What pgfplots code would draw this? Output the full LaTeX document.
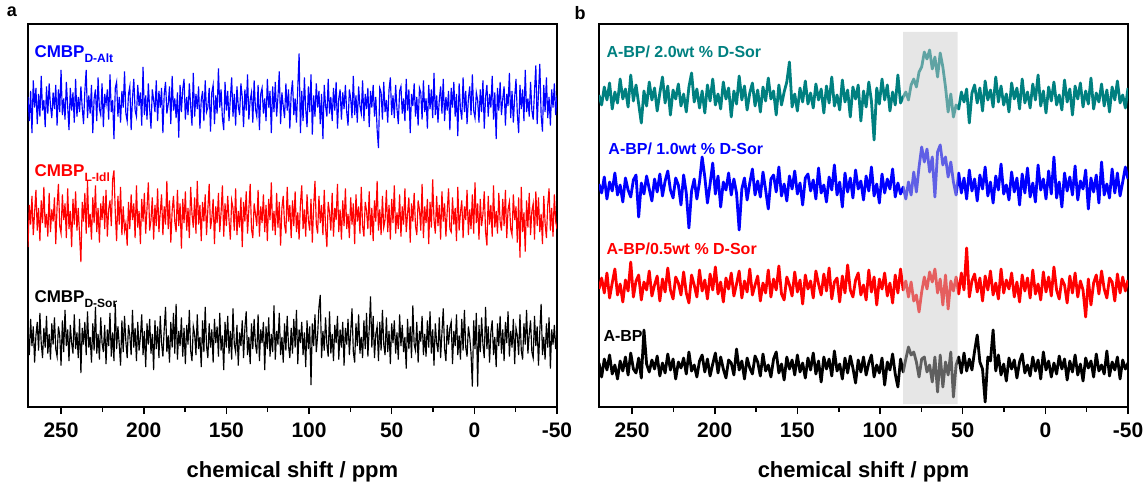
\documentclass[border=0pt]{standalone}
\usepackage{fontspec}
\setmainfont{Liberation Sans}
\usepackage{pgfplots}
\usepackage{pgfplotstable}
\pgfplotsset{compat=1.18}
\definecolor{cteal}{RGB}{0,128,128}
\definecolor{bandgray}{RGB}{202,202,202}

% ---- panel a (0.8 ppm steps from 270 ppm) ----
\pgfplotstableread[row sep=\\]{y\\
4\\-12\\8\\-20\\15\\-3\\10\\-14\\6\\-9\\18\\-5\\2\\-16\\11\\-7\\13\\-2\\-10\\7\\
-4\\12\\-15\\9\\-6\\22\\-8\\3\\-11\\14\\-2\\-18\\10\\-5\\7\\-13\\16\\-9\\4\\-6\\
11\\-3\\-14\\8\\22\\-10\\5\\-7\\12\\-20\\3\\9\\-12\\17\\-4\\-8\\13\\-16\\6\\-1\\
9\\-11\\19\\-6\\2\\-24\\10\\14\\-9\\4\\-13\\8\\-3\\21\\-7\\-12\\6\\11\\-18\\3\\
16\\-5\\-9\\12\\-2\\7\\-15\\24\\-8\\5\\-11\\13\\-4\\-17\\9\\2\\-6\\15\\-12\\8\\
-3\\10\\-20\\6\\14\\-7\\-1\\11\\-14\\18\\-5\\3\\-10\\7\\-23\\12\\-6\\9\\16\\-11\\
4\\-8\\13\\-2\\-15\\20\\-9\\6\\-4\\11\\-17\\2\\8\\-12\\15\\-6\\-3\\10\\-19\\7\\
12\\-14\\5\\-7\\23\\-3\\9\\-10\\-18\\14\\-5\\8\\-12\\3\\17\\-9\\6\\-15\\11\\-2\\
-8\\13\\4\\-16\\9\\-5\\19\\-11\\2\\7\\-13\\15\\-4\\-9\\12\\-18\\6\\10\\-7\\3\\
-12\\16\\-3\\8\\-20\\11\\-6\\14\\-9\\4\\21\\-14\\7\\-2\\-10\\13\\-5\\9\\-17\\6\\
15\\-8\\3\\-13\\10\\33\\-20\\8\\-12\\17\\-4\\-16\\11\\-6\\19\\-21\\5\\-9\\13\\-3\\
8\\-14\\6\\-24\\12\\-2\\-9\\16\\-7\\4\\-12\\10\\-5\\14\\-17\\3\\9\\-11\\7\\-4\\
12\\-6\\-15\\9\\3\\-10\\18\\-8\\5\\-13\\11\\-2\\-7\\15\\-12\\6\\-4\\10\\-16\\8\\
-3\\12\\-9\\4\\-18\\-30\\10\\7\\-11\\14\\-6\\2\\-13\\9\\17\\-8\\5\\-10\\12\\-4\\
-14\\8\\11\\-7\\3\\-12\\16\\-5\\9\\-20\\6\\-2\\13\\-9\\4\\-15\\10\\7\\-11\\15\\
-6\\3\\-17\\12\\-4\\9\\-10\\20\\-8\\5\\-13\\2\\11\\-7\\16\\-12\\4\\-5\\8\\-18\\
10\\-3\\14\\-9\\6\\-22\\13\\-4\\-11\\17\\-6\\8\\-14\\3\\11\\-8\\19\\-5\\-10\\7\\
2\\-13\\9\\-6\\15\\-17\\4\\12\\-9\\6\\-3\\18\\-11\\7\\-24\\10\\-5\\14\\-8\\3\\
11\\-15\\6\\-2\\20\\-10\\8\\-13\\4\\16\\-7\\-20\\12\\-4\\9\\-12\\22\\-6\\3\\-9\\
14\\-5\\-11\\8\\25\\-14\\7\\26\\-8\\-19\\12\\-6\\17\\-10\\4\\-15\\9\\-3\\13\\-8\\
5\\}\lblue

\pgfplotstableread[row sep=\\]{y\\
-20\\8\\-5\\14\\-12\\3\\18\\-9\\6\\-16\\11\\-4\\20\\-7\\2\\-13\\16\\-10\\5\\-3\\
13\\-18\\7\\22\\-6\\-11\\15\\-2\\9\\-14\\19\\-8\\4\\-20\\12\\-5\\17\\-9\\6\\-12\\
-30\\10\\-3\\16\\-11\\24\\-7\\2\\-15\\13\\-4\\21\\-10\\6\\-17\\9\\-2\\14\\-8\\18\\
-13\\5\\11\\-6\\25\\31\\3\\-16\\14\\-5\\20\\-12\\7\\-9\\-4\\-19\\10\\-8\\15\\-2\\
9\\-14\\21\\-7\\4\\-18\\12\\-3\\16\\-11\\6\\23\\-9\\-2\\13\\-15\\8\\-6\\19\\-10\\
3\\15\\-12\\7\\-5\\24\\-8\\11\\-17\\4\\14\\-3\\-10\\18\\-6\\9\\-21\\12\\-4\\17\\
-9\\6\\-14\\20\\2\\-7\\13\\-11\\24\\-5\\8\\-16\\10\\-3\\15\\-12\\5\\22\\-8\\-1\\
12\\-18\\7\\-4\\16\\-10\\3\\21\\-13\\9\\-6\\14\\-2\\-15\\11\\6\\-9\\19\\-12\\4\\
-7\\13\\-20\\10\\-3\\17\\-11\\5\\22\\-8\\-14\\9\\2\\-6\\18\\-13\\7\\-4\\15\\-10\\
8\\-16\\12\\-2\\23\\-9\\4\\-12\\16\\-7\\10\\-19\\6\\14\\-5\\-11\\20\\-3\\8\\-14\\
11\\-6\\17\\-10\\3\\-15\\9\\21\\-8\\5\\-13\\15\\-2\\-9\\12\\-17\\7\\24\\-5\\-11\\
14\\-4\\8\\-12\\18\\-7\\-20\\10\\3\\-9\\16\\-13\\6\\-2\\22\\-10\\5\\-15\\11\\-6\\
19\\-8\\2\\-14\\13\\-5\\9\\-18\\15\\-3\\7\\-11\\20\\-6\\-13\\10\\4\\-8\\17\\-12\\
6\\-16\\11\\-3\\24\\-9\\5\\-12\\14\\-7\\-2\\18\\-10\\8\\-15\\12\\-4\\21\\-11\\3\\
-8\\15\\-13\\7\\-5\\19\\-10\\2\\13\\-17\\9\\-3\\16\\-6\\-12\\11\\5\\-9\\22\\-14\\
7\\-4\\12\\-18\\10\\-7\\25\\-2\\-11\\14\\-6\\8\\-15\\17\\-3\\9\\-13\\4\\19\\-8\\
-10\\13\\-5\\6\\-16\\20\\-9\\3\\11\\-14\\7\\-2\\18\\-12\\5\\-8\\15\\-11\\23\\-4\\
9\\-15\\12\\-6\\2\\17\\-10\\-19\\14\\-5\\8\\-13\\21\\-7\\4\\-11\\16\\-3\\-9\\12\\
-6\\18\\-14\\5\\10\\-8\\-12\\15\\-2\\7\\-17\\13\\-27\\20\\-10\\3\\-23\\11\\-7\\16\\
-12\\4\\9\\-15\\17\\-6\\13\\-10\\2\\-18\\14\\-4\\-14\\8\\19\\-9\\6\\-13\\15\\-3\\
-8\\}\lred

\pgfplotstableread[row sep=\\]{y\\
6\\-10\\14\\-4\\9\\-15\\3\\12\\-7\\18\\-2\\-12\\8\\-5\\16\\-9\\4\\-13\\11\\-3\\
15\\-6\\-11\\9\\3\\-17\\13\\-8\\20\\-4\\7\\-14\\10\\-2\\-9\\17\\-6\\5\\-12\\14\\
-22\\8\\-3\\12\\-10\\19\\-5\\2\\-15\\11\\-7\\22\\-9\\4\\-13\\15\\-2\\-8\\10\\-16\\
7\\-4\\18\\-11\\5\\-14\\24\\-6\\9\\-3\\-17\\13\\-8\\16\\-1\\-12\\10\\3\\-10\\20\\
-5\\8\\-14\\12\\-7\\2\\17\\-10\\6\\-18\\11\\-3\\14\\-9\\4\\-20\\13\\-6\\9\\-12\\
16\\-2\\-11\\7\\22\\-8\\3\\-15\\12\\-5\\18\\-9\\24\\-13\\6\\-4\\15\\-11\\8\\-16\\
10\\-3\\20\\-7\\-14\\9\\4\\-10\\17\\-6\\2\\-18\\13\\-8\\22\\-4\\-12\\11\\-5\\7\\
-15\\14\\-2\\9\\-11\\18\\-7\\3\\-20\\12\\-5\\16\\-9\\6\\-13\\21\\-3\\-8\\10\\-17\\
5\\-4\\13\\-12\\8\\19\\-10\\2\\-16\\11\\-6\\14\\-3\\-9\\17\\-14\\7\\-2\\12\\-20\\
9\\-6\\15\\-11\\4\\-8\\23\\-13\\6\\-3\\18\\-10\\2\\-15\\11\\-7\\16\\-4\\-12\\8\\
-9\\14\\-5\\20\\-16\\7\\-2\\12\\-10\\5\\-18\\13\\-6\\9\\-30\\11\\-4\\17\\-8\\3\\
22\\30\\-12\\6\\-7\\15\\-3\\-11\\19\\-9\\4\\-14\\10\\-2\\16\\-13\\7\\-5\\12\\-17\\
8\\-3\\14\\-10\\5\\21\\-8\\-15\\11\\-4\\17\\-9\\2\\-12\\13\\-6\\18\\-11\\7\\29\\
-5\\16\\-12\\4\\9\\-14\\12\\-7\\20\\-3\\-10\\15\\-8\\6\\-16\\11\\-2\\13\\-9\\5\\
-13\\17\\-4\\10\\-8\\2\\-19\\14\\-6\\9\\-12\\23\\-3\\-7\\12\\-15\\6\\-1\\16\\-10\\
4\\-11\\13\\-5\\19\\-9\\7\\-17\\11\\-2\\-8\\15\\-12\\5\\21\\-6\\-14\\10\\-3\\8\\
12\\-16\\6\\-4\\17\\-10\\3\\-13\\14\\-7\\20\\-5\\-11\\9\\2\\-9\\-31\\13\\-6\\18\\
-31\\10\\-8\\15\\-3\\-12\\22\\-6\\9\\-15\\5\\13\\-10\\2\\-18\\11\\-4\\16\\-9\\7\\
-14\\12\\-2\\19\\-11\\6\\-5\\14\\-16\\8\\3\\-10\\17\\-7\\-13\\11\\-3\\20\\-9\\4\\
13\\-8\\-12\\16\\-4\\9\\-17\\6\\24\\-10\\2\\-13\\11\\-5\\15\\-19\\7\\-3\\10\\-6\\
5\\}\lblack

% ---- panel b (1.6 ppm steps from 270 ppm) ----
\pgfplotstableread[row sep=\\]{y\\
2\\-8\\10\\-3\\14\\-12\\5\\-6\\18\\-2\\8\\-10\\22\\-4\\12\\-7\\-26\\6\\-9\\15\\
-3\\9\\-14\\4\\20\\-6\\11\\-18\\7\\-2\\13\\-9\\3\\-15\\10\\24\\-5\\8\\-11\\6\\
-16\\12\\-4\\18\\-8\\3\\-12\\15\\-2\\9\\-20\\6\\-7\\21\\-3\\11\\-13\\4\\14\\-9\\
7\\-15\\10\\-4\\19\\-2\\6\\-18\\12\\-8\\5\\15\\35\\-10\\3\\-14\\9\\-5\\16\\-7\\
4\\-11\\13\\-3\\8\\-16\\11\\-6\\20\\-9\\2\\-13\\17\\-5\\7\\-20\\10\\-2\\12\\-24\\
6\\-10\\15\\-4\\-43\\9\\-7\\18\\-3\\12\\-14\\5\\-8\\22\\-6\\0\\5\\-3\\12\\18\\
10\\25\\30\\45\\38\\47\\28\\40\\20\\44\\30\\10\\-15\\3\\-20\\-8\\-12\\5\\-5\\8\\
-26\\4\\12\\-6\\9\\-14\\16\\-3\\7\\-10\\20\\-5\\11\\-8\\3\\-15\\14\\-2\\9\\-12\\
18\\-6\\5\\-11\\13\\-3\\22\\-9\\6\\-16\\10\\-4\\15\\-8\\2\\-13\\17\\-5\\8\\-18\\
11\\-2\\14\\-10\\6\\-7\\19\\-12\\4\\-5\\13\\-9\\7\\-15\\10\\-3\\16\\-6\\2\\-11\\
9\\}\rteal

\pgfplotstableread[row sep=\\]{y\\
3\\-6\\10\\-12\\5\\-4\\14\\-8\\2\\-15\\9\\-3\\-10\\7\\12\\-30\\4\\-7\\11\\-2\\
-14\\8\\-5\\13\\-9\\6\\16\\-3\\-11\\9\\2\\-18\\12\\-6\\-41\\-4\\8\\-12\\5\\30\\
10\\-16\\3\\24\\-7\\11\\-20\\5\\-3\\14\\-8\\8\\-6\\-43\\-2\\9\\-13\\4\\18\\-8\\
6\\-10\\15\\-3\\-22\\8\\12\\-5\\20\\-9\\3\\-14\\11\\-2\\16\\-7\\4\\-18\\9\\13\\
-4\\7\\-12\\19\\-6\\2\\-15\\10\\-3\\22\\-8\\5\\-20\\14\\-5\\9\\-11\\17\\-2\\6\\
-13\\11\\-4\\20\\-9\\3\\-16\\13\\-6\\8\\-2\\18\\-10\\4\\-7\\0\\-12\\5\\-8\\15\\
-5\\20\\40\\25\\38\\15\\30\\-10\\35\\42\\22\\30\\10\\25\\5\\-8\\14\\-6\\9\\-12\\
17\\-4\\8\\-14\\12\\-2\\20\\-9\\5\\-16\\11\\-3\\23\\-7\\2\\-13\\15\\-5\\9\\-18\\
13\\-6\\19\\-10\\4\\-15\\22\\-3\\8\\-12\\16\\-7\\30\\-11\\5\\-20\\14\\-4\\10\\-8\\
21\\-13\\6\\-2\\17\\-22\\9\\-5\\12\\-16\\25\\-8\\3\\-11\\18\\-6\\14\\-9\\5\\20\\
8\\}\rblue

\pgfplotstableread[row sep=\\]{y\\
-2\\9\\-6\\14\\-11\\4\\18\\-8\\3\\-15\\7\\-4\\25\\-10\\6\\12\\-13\\5\\-3\\16\\
-9\\2\\11\\-14\\8\\-5\\19\\-3\\-12\\10\\4\\-8\\15\\-6\\-16\\12\\2\\-10\\17\\-4\\
7\\-12\\13\\-3\\20\\-7\\5\\-15\\9\\-2\\14\\-9\\3\\16\\-11\\6\\-5\\18\\-8\\2\\
11\\-14\\4\\-6\\17\\-10\\8\\-3\\21\\-7\\-13\\10\\2\\-9\\15\\-5\\7\\-17\\12\\-2\\
6\\-11\\16\\3\\-8\\13\\-4\\19\\-12\\5\\9\\-15\\11\\-6\\22\\-3\\-10\\7\\14\\-8\\
2\\-13\\17\\-5\\10\\-18\\8\\-2\\14\\-9\\4\\-16\\12\\-6\\18\\-3\\6\\-10\\5\\-14\\
-8\\-25\\-5\\10\\-2\\15\\5\\18\\-6\\8\\-18\\12\\-22\\6\\-4\\10\\-7\\14\\-3\\39\\
-10\\6\\13\\-5\\9\\-14\\11\\-3\\16\\-8\\4\\-12\\18\\-6\\7\\-2\\14\\-10\\5\\-15\\
12\\-4\\9\\-11\\17\\-7\\3\\-13\\15\\-5\\10\\-9\\20\\-3\\-12\\8\\2\\-16\\11\\-6\\
14\\-10\\6\\-3\\-30\\8\\-18\\4\\12\\-7\\16\\-2\\-11\\9\\5\\-14\\13\\-6\\10\\-4\\
7\\}\rred

\pgfplotstableread[row sep=\\]{y\\
4\\-10\\8\\-3\\12\\-7\\2\\-12\\6\\-4\\10\\-8\\14\\-2\\-6\\9\\-11\\37\\3\\-5\\
7\\-2\\11\\-9\\4\\-6\\13\\-3\\8\\-12\\5\\-1\\9\\-7\\15\\-4\\2\\-10\\6\\12\\
-5\\8\\-9\\3\\14\\-6\\10\\-2\\-11\\7\\4\\-8\\18\\-3\\6\\-12\\9\\-1\\-7\\11\\
5\\-9\\13\\-4\\2\\-10\\8\\15\\-6\\3\\-13\\10\\-2\\7\\-8\\12\\-5\\4\\-11\\9\\
-3\\14\\-7\\6\\-15\\10\\-2\\8\\-9\\16\\-4\\3\\-12\\9\\-6\\11\\-1\\-16\\7\\-5\\
10\\-8\\4\\12\\-10\\2\\-6\\9\\-18\\5\\-3\\13\\-7\\-20\\8\\-5\\8\\20\\12\\15\\
5\\-10\\8\\10\\-5\\2\\-15\\10\\-25\\12\\-20\\5\\-8\\15\\-30\\2\\10\\-6\\14\\-4\\
8\\-3\\16\\32\\5\\-2\\-35\\10\\6\\37\\-4\\12\\-8\\3\\-14\\9\\-2\\7\\-11\\5\\
13\\-6\\2\\-9\\10\\-4\\7\\-12\\15\\-3\\6\\-10\\4\\-7\\11\\-2\\8\\-13\\6\\-5\\
12\\-8\\3\\-14\\9\\-1\\6\\-10\\13\\-4\\2\\-7\\16\\-9\\5\\-3\\10\\-12\\7\\-2\\
4\\}\rblack

\pgfplotsset{
  spec/.style={
    scale only axis, width=529pt, height=383pt,
    xmin=-50, xmax=270, ymin=0, ymax=383, x dir=reverse,
    xtick={250,200,150,100,50,0,-50},
    xticklabels={250,200,150,100,50,0,-50},
    minor x tick num=1,
    ytick=\empty,
    xtick pos=bottom,
    tick align=outside,
    major tick length=7pt, minor tick length=5pt,
    every tick/.style={black, line width=1.6pt},
    axis line style={line width=2.2pt},
    tick label style={font=\fontsize{21}{21}\selectfont\bfseries},
    xticklabel shift=5pt,
    xlabel={chemical shift / ppm},
    xlabel style={font=\fontsize{22}{22}\selectfont\bfseries, yshift=-17pt},
    clip=true,
  },
}

\begin{document}
\begin{tikzpicture}
\useasboundingbox (0,0) rectangle (1143pt,482pt);
\node[font=\fontsize{18}{18}\selectfont\bfseries] at (12pt,470pt) {a};
\node[font=\fontsize{18}{18}\selectfont\bfseries] at (580pt,469pt) {b};

\begin{axis}[spec, at={(28pt,75pt)}, anchor=south west]
  \addplot[blue, line width=1.15pt] table[x index=0, y index=0, x expr=270-0.8*\coordindex, y expr=1.5*\thisrowno{0}+304] {\lblue};
  \addplot[red, line width=1.15pt] table[x index=0, y index=0, x expr=270-0.8*\coordindex, y expr=1.5*\thisrowno{0}+190] {\lred};
  \addplot[black, line width=1.15pt] table[x index=0, y index=0, x expr=270-0.8*\coordindex, y expr=1.5*\thisrowno{0}+67] {\lblack};
  \node[anchor=base west, text=blue, font=\fontsize{17}{17}\selectfont\bfseries] at (axis cs:268.2,349) {CMBP\raisebox{-5pt}{\fontsize{12}{12}\selectfont D-Alt}};
  \node[anchor=base west, text=red, font=\fontsize{17}{17}\selectfont\bfseries] at (axis cs:268.2,230) {CMBP\raisebox{-5pt}{\fontsize{12}{12}\selectfont L-Idl}};
  \node[anchor=base west, text=black, font=\fontsize{17}{17}\selectfont\bfseries] at (axis cs:268.2,104) {CMBP\raisebox{-5pt}{\fontsize{12}{12}\selectfont D-Sor}};
\end{axis}

\begin{axis}[spec, at={(599pt,75pt)}, anchor=south west]
  \addplot[cteal, line width=2.8pt, line join=round] table[x index=0, y index=0, x expr=270-1.6*\coordindex, y expr=\thisrowno{0}+310] {\rteal};
  \addplot[blue, line width=2.8pt, line join=round] table[x index=0, y index=0, x expr=270-1.6*\coordindex, y expr=\thisrowno{0}+220] {\rblue};
  \addplot[red, line width=2.8pt, line join=round] table[x index=0, y index=0, x expr=270-1.6*\coordindex, y expr=\thisrowno{0}+120] {\rred};
  \addplot[black, line width=2.8pt, line join=round] table[x index=0, y index=0, x expr=270-1.6*\coordindex, y expr=\thisrowno{0}+40] {\rblack};
  \addplot[draw=none, fill=bandgray, fill opacity=0.475] coordinates {(86,3) (53,3) (53,375) (86,375) (86,3)};
  \node[anchor=base west, text=cteal, font=\fontsize{16}{16}\selectfont\bfseries] at (axis cs:267.6,349) {A-BP/ 2.0wt \% D-Sor};
  \node[anchor=base west, text=blue, font=\fontsize{16}{16}\selectfont\bfseries] at (axis cs:266.4,252) {A-BP/ 1.0wt \% D-Sor};
  \node[anchor=base west, text=red, font=\fontsize{16}{16}\selectfont\bfseries] at (axis cs:267.6,152) {A-BP/0.5wt \% D-Sor};
  \node[anchor=base west, text=black, font=\fontsize{16}{16}\selectfont\bfseries] at (axis cs:269.4,65) {A-BP};
\end{axis}
\end{tikzpicture}
\end{document}
